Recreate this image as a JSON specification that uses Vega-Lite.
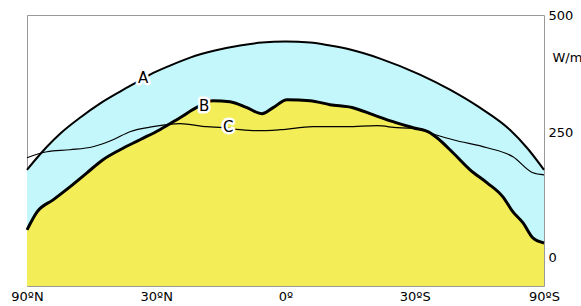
{
  "$schema": "https://vega.github.io/schema/vega-lite/v6.json",
  "width": 517,
  "height": 271,
  "autosize": {"type": "none"},
  "padding": {"left": 27, "top": 15, "right": 37, "bottom": 20},
  "background": "white",
  "config": {
    "view": {"stroke": "#999999", "strokeWidth": 1},
    "font": "DejaVu Sans"
  },
  "datasets": {
    "curves": [
      {"series": "A", "s": -1.0, "v": 176},
      {"series": "A", "s": -0.961, "v": 200},
      {"series": "A", "s": -0.923, "v": 222},
      {"series": "A", "s": -0.872, "v": 248},
      {"series": "A", "s": -0.795, "v": 280},
      {"series": "A", "s": -0.718, "v": 308},
      {"series": "A", "s": -0.64, "v": 332},
      {"series": "A", "s": -0.578, "v": 350},
      {"series": "A", "s": -0.524, "v": 366},
      {"series": "A", "s": -0.447, "v": 384},
      {"series": "A", "s": -0.369, "v": 400},
      {"series": "A", "s": -0.273, "v": 414},
      {"series": "A", "s": -0.176, "v": 424},
      {"series": "A", "s": -0.091, "v": 430},
      {"series": "A", "s": 0.0, "v": 432},
      {"series": "A", "s": 0.095, "v": 430},
      {"series": "A", "s": 0.172, "v": 424},
      {"series": "A", "s": 0.25, "v": 416},
      {"series": "A", "s": 0.366, "v": 398},
      {"series": "A", "s": 0.52, "v": 366},
      {"series": "A", "s": 0.636, "v": 336},
      {"series": "A", "s": 0.752, "v": 300},
      {"series": "A", "s": 0.868, "v": 256},
      {"series": "A", "s": 0.934, "v": 220},
      {"series": "A", "s": 1.0, "v": 176},
      {"series": "B", "s": -1.0, "v": 56},
      {"series": "B", "s": -0.961, "v": 92},
      {"series": "B", "s": -0.899, "v": 116},
      {"series": "B", "s": -0.834, "v": 142},
      {"series": "B", "s": -0.768, "v": 170},
      {"series": "B", "s": -0.706, "v": 196},
      {"series": "B", "s": -0.64, "v": 216},
      {"series": "B", "s": -0.563, "v": 236},
      {"series": "B", "s": -0.486, "v": 256},
      {"series": "B", "s": -0.408, "v": 280},
      {"series": "B", "s": -0.338, "v": 302},
      {"series": "B", "s": -0.28, "v": 314},
      {"series": "B", "s": -0.215, "v": 312},
      {"series": "B", "s": -0.149, "v": 300},
      {"series": "B", "s": -0.091, "v": 288},
      {"series": "B", "s": -0.048, "v": 300},
      {"series": "B", "s": 0.006, "v": 316},
      {"series": "B", "s": 0.095, "v": 314},
      {"series": "B", "s": 0.172, "v": 306},
      {"series": "B", "s": 0.261, "v": 300},
      {"series": "B", "s": 0.338, "v": 286},
      {"series": "B", "s": 0.416, "v": 272},
      {"series": "B", "s": 0.493, "v": 260},
      {"series": "B", "s": 0.559, "v": 250},
      {"series": "B", "s": 0.586, "v": 240},
      {"series": "B", "s": 0.648, "v": 210},
      {"series": "B", "s": 0.714, "v": 176},
      {"series": "B", "s": 0.78, "v": 150},
      {"series": "B", "s": 0.841, "v": 122},
      {"series": "B", "s": 0.88, "v": 92},
      {"series": "B", "s": 0.919, "v": 70},
      {"series": "B", "s": 0.957, "v": 40},
      {"series": "B", "s": 1.0, "v": 30},
      {"series": "C", "s": -1.0, "v": 200},
      {"series": "C", "s": -0.923, "v": 212},
      {"series": "C", "s": -0.834, "v": 216},
      {"series": "C", "s": -0.745, "v": 222},
      {"series": "C", "s": -0.667, "v": 236},
      {"series": "C", "s": -0.602, "v": 252},
      {"series": "C", "s": -0.513, "v": 262},
      {"series": "C", "s": -0.408, "v": 268},
      {"series": "C", "s": -0.304, "v": 262},
      {"series": "C", "s": -0.242, "v": 260},
      {"series": "C", "s": -0.176, "v": 256},
      {"series": "C", "s": -0.11, "v": 254},
      {"series": "C", "s": -0.021, "v": 256},
      {"series": "C", "s": 0.106, "v": 262},
      {"series": "C", "s": 0.238, "v": 262},
      {"series": "C", "s": 0.354, "v": 264},
      {"series": "C", "s": 0.431, "v": 260},
      {"series": "C", "s": 0.52, "v": 258},
      {"series": "C", "s": 0.559, "v": 250},
      {"series": "C", "s": 0.648, "v": 236},
      {"series": "C", "s": 0.78, "v": 220},
      {"series": "C", "s": 0.88, "v": 202},
      {"series": "C", "s": 0.957, "v": 170},
      {"series": "C", "s": 1.0, "v": 166}
    ],
    "labels": [
      {"label": "A", "s": -0.551, "v": 360},
      {"label": "B", "s": -0.315, "v": 304},
      {"label": "C", "s": -0.222, "v": 262}
    ]
  },
  "encoding": {
    "x": {
      "field": "s", "type": "quantitative",
      "scale": {"domain": [-1, 1], "nice": false, "zero": false},
      "axis": {
        "values": [-1, -0.5, 0, 0.5, 1],
        "labelExpr": "datum.value == -1 ? '90ºN' : datum.value == -0.5 ? '30ºN' : datum.value == 0 ? '0º' : datum.value == 0.5 ? '30ºS' : '90ºS'",
        "grid": false, "domain": false, "ticks": false,
        "labelPadding": 4, "labelFontSize": 13, "labelColor": "#000000",
        "labelFlush": false, "labelOverlap": false,
        "title": null
      }
    },
    "y": {
      "field": "v", "type": "quantitative",
      "scale": {"domain": [-56, 485], "nice": false, "zero": false},
      "axis": {
        "orient": "right",
        "values": [0, 250, 485],
        "labelExpr": "datum.value == 485 ? '500' : datum.label",
        "grid": false, "domain": false, "ticks": false,
        "labelPadding": 4, "labelFontSize": 13, "labelColor": "#000000",
        "labelFlush": false, "labelOverlap": false,
        "title": "W/m²", "titleAngle": 0, "titleAlign": "left", "titleBaseline": "middle",
        "titleX": 8, "titleY": 42, "titleFontSize": 13, "titleFontWeight": "normal", "titleColor": "#000000"
      }
    }
  },
  "layer": [
    {
      "data": {"name": "curves"},
      "transform": [{"filter": "datum.series == 'A'"}],
      "mark": {"type": "area", "color": "#c4f7fb", "interpolate": "monotone"},
      "encoding": {"y2": {"datum": -56}}
    },
    {
      "data": {"name": "curves"},
      "transform": [{"filter": "datum.series == 'B'"}],
      "mark": {"type": "area", "color": "#f3ed58", "interpolate": "monotone"},
      "encoding": {"y2": {"datum": -56}}
    },
    {
      "data": {"values": [{"g": 0}, {"g": 250}]},
      "mark": {"type": "rule", "color": "#8a8a8a", "strokeWidth": 1},
      "encoding": {"y": {"field": "g", "type": "quantitative"}, "x": {"datum": -1}, "x2": {"datum": 1}}
    },
    {
      "data": {"values": [{"g": 0}]},
      "mark": {"type": "rule", "color": "#8a8a8a", "strokeWidth": 1},
      "encoding": {"x": {"field": "g", "type": "quantitative"}, "y": {"datum": -56}, "y2": {"datum": 485}}
    },
    {
      "data": {"values": [{"t": -0.5}, {"t": 0.5}]},
      "mark": {"type": "rule", "color": "#8a8a8a", "strokeWidth": 1},
      "encoding": {"x": {"field": "t", "type": "quantitative"}, "y": {"datum": -56}, "y2": {"datum": -42}}
    },
    {
      "data": {"name": "curves"},
      "transform": [{"filter": "datum.series == 'A'"}],
      "mark": {"type": "line", "color": "#000000", "strokeWidth": 2, "interpolate": "monotone"},
      "encoding": {}
    },
    {
      "data": {"name": "curves"},
      "transform": [{"filter": "datum.series == 'C'"}],
      "mark": {"type": "line", "color": "#000000", "strokeWidth": 1.2, "interpolate": "monotone"},
      "encoding": {}
    },
    {
      "data": {"name": "curves"},
      "transform": [{"filter": "datum.series == 'B'"}],
      "mark": {"type": "line", "color": "#000000", "strokeWidth": 3, "strokeJoin": "round", "interpolate": "monotone"},
      "encoding": {}
    },
    {
      "data": {"name": "labels"},
      "mark": {"type": "text", "fontSize": 15, "stroke": "white", "strokeWidth": 5, "strokeJoin": "round", "fill": "white", "align": "center", "baseline": "middle"},
      "encoding": {"text": {"field": "label"}}
    },
    {
      "data": {"name": "labels"},
      "mark": {"type": "text", "fontSize": 15, "fill": "#000000", "align": "center", "baseline": "middle"},
      "encoding": {"text": {"field": "label"}}
    }
  ]
}
